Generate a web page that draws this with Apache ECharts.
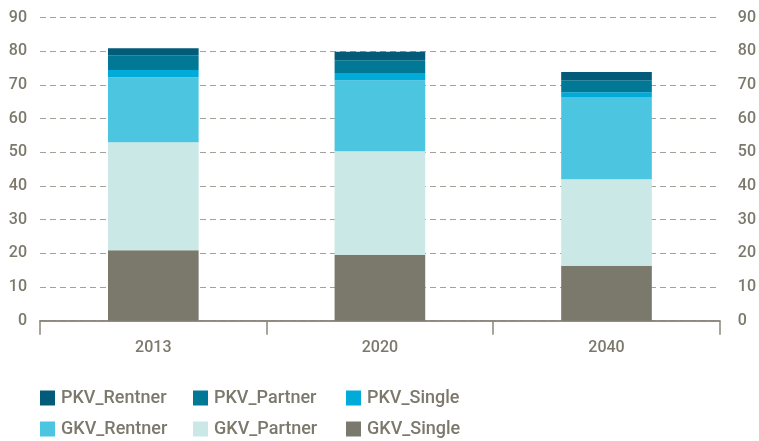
<!DOCTYPE html>
<html>
<head>
<meta charset="utf-8">
<script src="https://cdn.jsdelivr.net/npm/echarts@6/dist/echarts.min.js"></script>
<style>html,body{margin:0;padding:0;background:#fff}#c{width:759px;height:441px}</style>
</head>
<body>
<div id="c"></div>
<script>
var categories = ['2013', '2020', '2040'];
var GKV_Single  = [20.9, 19.6, 16.3];
var GKV_Partner = [32.1, 30.7, 25.7];
var GKV_Rentner = [19.3, 21.1, 24.4];
var PKV_Single  = [2.1, 2.1, 1.4];
var PKV_Partner = [4.4, 3.8, 3.6];
var PKV_Rentner = [2.1, 2.5, 2.4];
var yTicks = [0, 10, 20, 30, 40, 50, 60, 70, 80, 90];

var txt = '#7b786c';
var font = 'Roboto';
var seriesDefs = [
  ['GKV_Single', GKV_Single, '#7b786c'],
  ['GKV_Partner', GKV_Partner, '#c9e8e6'],
  ['GKV_Rentner', GKV_Rentner, '#4bc5e0'],
  ['PKV_Single', PKV_Single, '#00abda'],
  ['PKV_Partner', PKV_Partner, '#007896'],
  ['PKV_Rentner', PKV_Rentner, '#025b78']
];
var series = seriesDefs.map(function (d) {
  return { name: d[0], type: 'bar', stack: 'a', data: d[1], barWidth: '40%',
           itemStyle: { color: d[2] }, emphasis: { disabled: true } };
});
var legendPos = [
  ['PKV_Rentner', 40, 389], ['PKV_Partner', 193, 389], ['PKV_Single', 346, 389],
  ['GKV_Rentner', 40, 420], ['GKV_Partner', 193, 420], ['GKV_Single', 346, 420]
];
var legends = legendPos.map(function (l) {
  return { data: [l[0]], left: l[1], top: l[2], itemWidth: 15, itemHeight: 15, itemGap: 0,
           icon: 'rect', padding: 0,
           textStyle: { color: txt, fontSize: 18, fontFamily: font, fontWeight: 500, padding: [0, 0, 0, 1] } };
});
var yAxisCommon = {
  type: 'value', min: 0, max: 90, interval: 10,
  axisLine: { show: false }, axisTick: { show: false }
};
var chart = echarts.init(document.getElementById('c'));
chart.setOption({
  animation: false,
  grid: { left: 40, right: 38, top: 17.5, bottom: 120.3 },
  legend: legends,
  xAxis: [{
    type: 'category', data: categories,
    axisLine: { lineStyle: { color: '#8a877c', width: 1.5 } },
    axisTick: { show: true, length: 14, lineStyle: { color: '#8a877c', width: 1.5 } },
    axisLabel: { color: txt, fontSize: 16, fontFamily: font, fontWeight: 500, margin: 19 }
  }, {
    type: 'category', data: categories, position: 'top',
    axisLine: { lineStyle: { color: '#8a877c', width: 1.5 } },
    axisTick: { show: false }, axisLabel: { show: false }
  }],
  yAxis: [
    Object.assign({}, yAxisCommon, {
      position: 'left',
      axisLabel: { color: txt, fontSize: 16, fontFamily: font, fontWeight: 500, margin: 13 },
      splitLine: { show: true, lineStyle: { color: '#a3a39c', type: [6, 4], width: 1 } }
    }),
    Object.assign({}, yAxisCommon, {
      position: 'right',
      axisLabel: { color: txt, fontSize: 16, fontFamily: font, fontWeight: 500, margin: 18 },
      splitLine: { show: false }
    })
  ],
  series: series
});
</script>
</body>
</html>
